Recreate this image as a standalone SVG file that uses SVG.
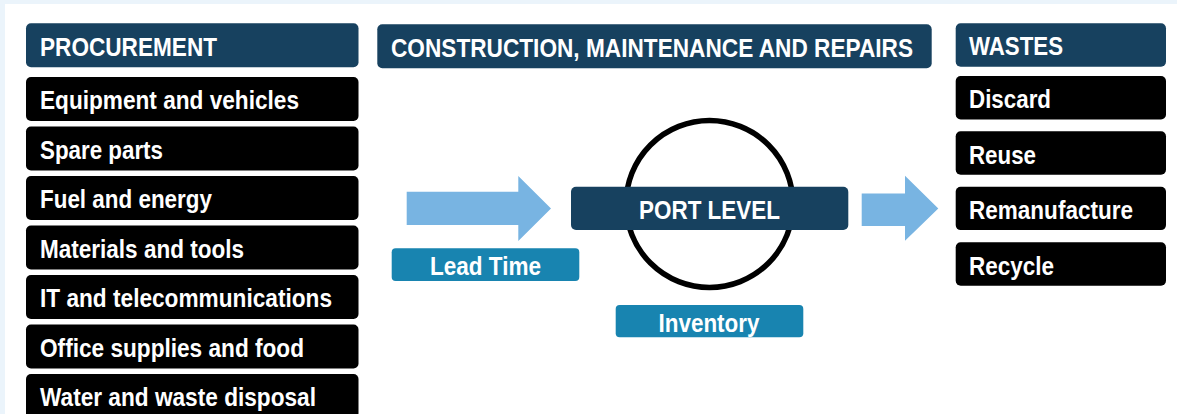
<svg xmlns="http://www.w3.org/2000/svg" width="1177" height="414" viewBox="0 0 1177 414">
<style>
.hdr{fill:#17415f}
.blk{fill:#000}
.lbl{fill:#1884b0}
.t{font-family:"Liberation Sans",Arial,sans-serif;font-weight:bold;font-size:26px;fill:#fff}
.arrow{fill:#78b4e2}
</style>
<rect x="0" y="0" width="1177" height="414" fill="#ebf4fb"/>
<rect x="5" y="4" width="1172" height="410" fill="#fff"/>

<g id="connectors">
<polygon class="arrow" points="406.7,191.7 518.3,191.7 518.3,176 551,208.5 518.3,241 518.3,225 406.7,225"/>
<polygon class="arrow" points="861.7,193.5 905,193.5 905,175.7 938.3,208.5 905,240.7 905,226 861.7,226"/>
</g>

<g id="procurement">
<rect class="hdr" x="26" y="23.3" width="332.5" height="44" rx="5"/>
<text class="t" x="40" y="56" textLength="177" lengthAdjust="spacingAndGlyphs">PROCUREMENT</text>
</g>
<g id="equipment">
<rect class="blk" x="26" y="77" width="332.5" height="44" rx="5"/>
<text class="t" x="40" y="109" textLength="259" lengthAdjust="spacingAndGlyphs">Equipment and vehicles</text>
</g>
<g id="spare-parts">
<rect class="blk" x="26" y="126.5" width="332.5" height="44" rx="5"/>
<text class="t" x="40" y="158.5" textLength="123" lengthAdjust="spacingAndGlyphs">Spare parts</text>
</g>
<g id="fuel">
<rect class="blk" x="26" y="176" width="332.5" height="44" rx="5"/>
<text class="t" x="40" y="208" textLength="172" lengthAdjust="spacingAndGlyphs">Fuel and energy</text>
</g>
<g id="materials">
<rect class="blk" x="26" y="225.5" width="332.5" height="44" rx="5"/>
<text class="t" x="40" y="257.5" textLength="204" lengthAdjust="spacingAndGlyphs">Materials and tools</text>
</g>
<g id="it">
<rect class="blk" x="26" y="275" width="332.5" height="44" rx="5"/>
<text class="t" x="40" y="307" textLength="292" lengthAdjust="spacingAndGlyphs">IT and telecommunications</text>
</g>
<g id="office">
<rect class="blk" x="26" y="324.5" width="332.5" height="44" rx="5"/>
<text class="t" x="40" y="356.5" textLength="264" lengthAdjust="spacingAndGlyphs">Office supplies and food</text>
</g>
<g id="water">
<rect class="blk" x="26" y="374" width="332.5" height="44" rx="5"/>
<text class="t" x="40" y="406" textLength="276" lengthAdjust="spacingAndGlyphs">Water and waste disposal</text>
</g>

<g id="construction">
<rect class="hdr" x="377.3" y="24.3" width="554.4" height="44" rx="5"/>
<text class="t" x="0" y="0" transform="translate(391,57) scale(0.871,1)">CONSTRUCTION, MAINTENANCE AND REPAIRS</text>
</g>

<g id="port-level">
<circle cx="709.5" cy="204" r="83.5" fill="none" stroke="#000" stroke-width="5.5"/>
<rect class="hdr" x="571" y="186.7" width="277.3" height="43.3" rx="5"/>
<text class="t" x="709.5" y="219" text-anchor="middle" textLength="141" lengthAdjust="spacingAndGlyphs">PORT LEVEL</text>
</g>

<g id="lead-time">
<rect class="lbl" x="391.7" y="248.3" width="187.6" height="32.7" rx="4"/>
<text class="t" x="485.5" y="275" text-anchor="middle" textLength="111" lengthAdjust="spacingAndGlyphs">Lead Time</text>
</g>
<g id="inventory">
<rect class="lbl" x="615.7" y="305" width="187.6" height="32.3" rx="4"/>
<text class="t" x="709" y="331.5" text-anchor="middle" textLength="101" lengthAdjust="spacingAndGlyphs">Inventory</text>
</g>

<g id="wastes">
<rect class="hdr" x="955.7" y="23.3" width="210.3" height="43.4" rx="5"/>
<text class="t" x="969" y="55" textLength="94" lengthAdjust="spacingAndGlyphs">WASTES</text>
</g>
<g id="discard">
<rect class="blk" x="955.7" y="76" width="210.3" height="43.4" rx="5"/>
<text class="t" x="969" y="108.3" textLength="82" lengthAdjust="spacingAndGlyphs">Discard</text>
</g>
<g id="reuse">
<rect class="blk" x="955.7" y="131.3" width="210.3" height="43.4" rx="5"/>
<text class="t" x="969" y="163.6" textLength="67" lengthAdjust="spacingAndGlyphs">Reuse</text>
</g>
<g id="remanufacture">
<rect class="blk" x="955.7" y="186.7" width="210.3" height="43.4" rx="5"/>
<text class="t" x="969" y="219" textLength="164" lengthAdjust="spacingAndGlyphs">Remanufacture</text>
</g>
<g id="recycle">
<rect class="blk" x="955.7" y="242.3" width="210.3" height="43.4" rx="5"/>
<text class="t" x="969" y="274.6" textLength="85" lengthAdjust="spacingAndGlyphs">Recycle</text>
</g>
</svg>
